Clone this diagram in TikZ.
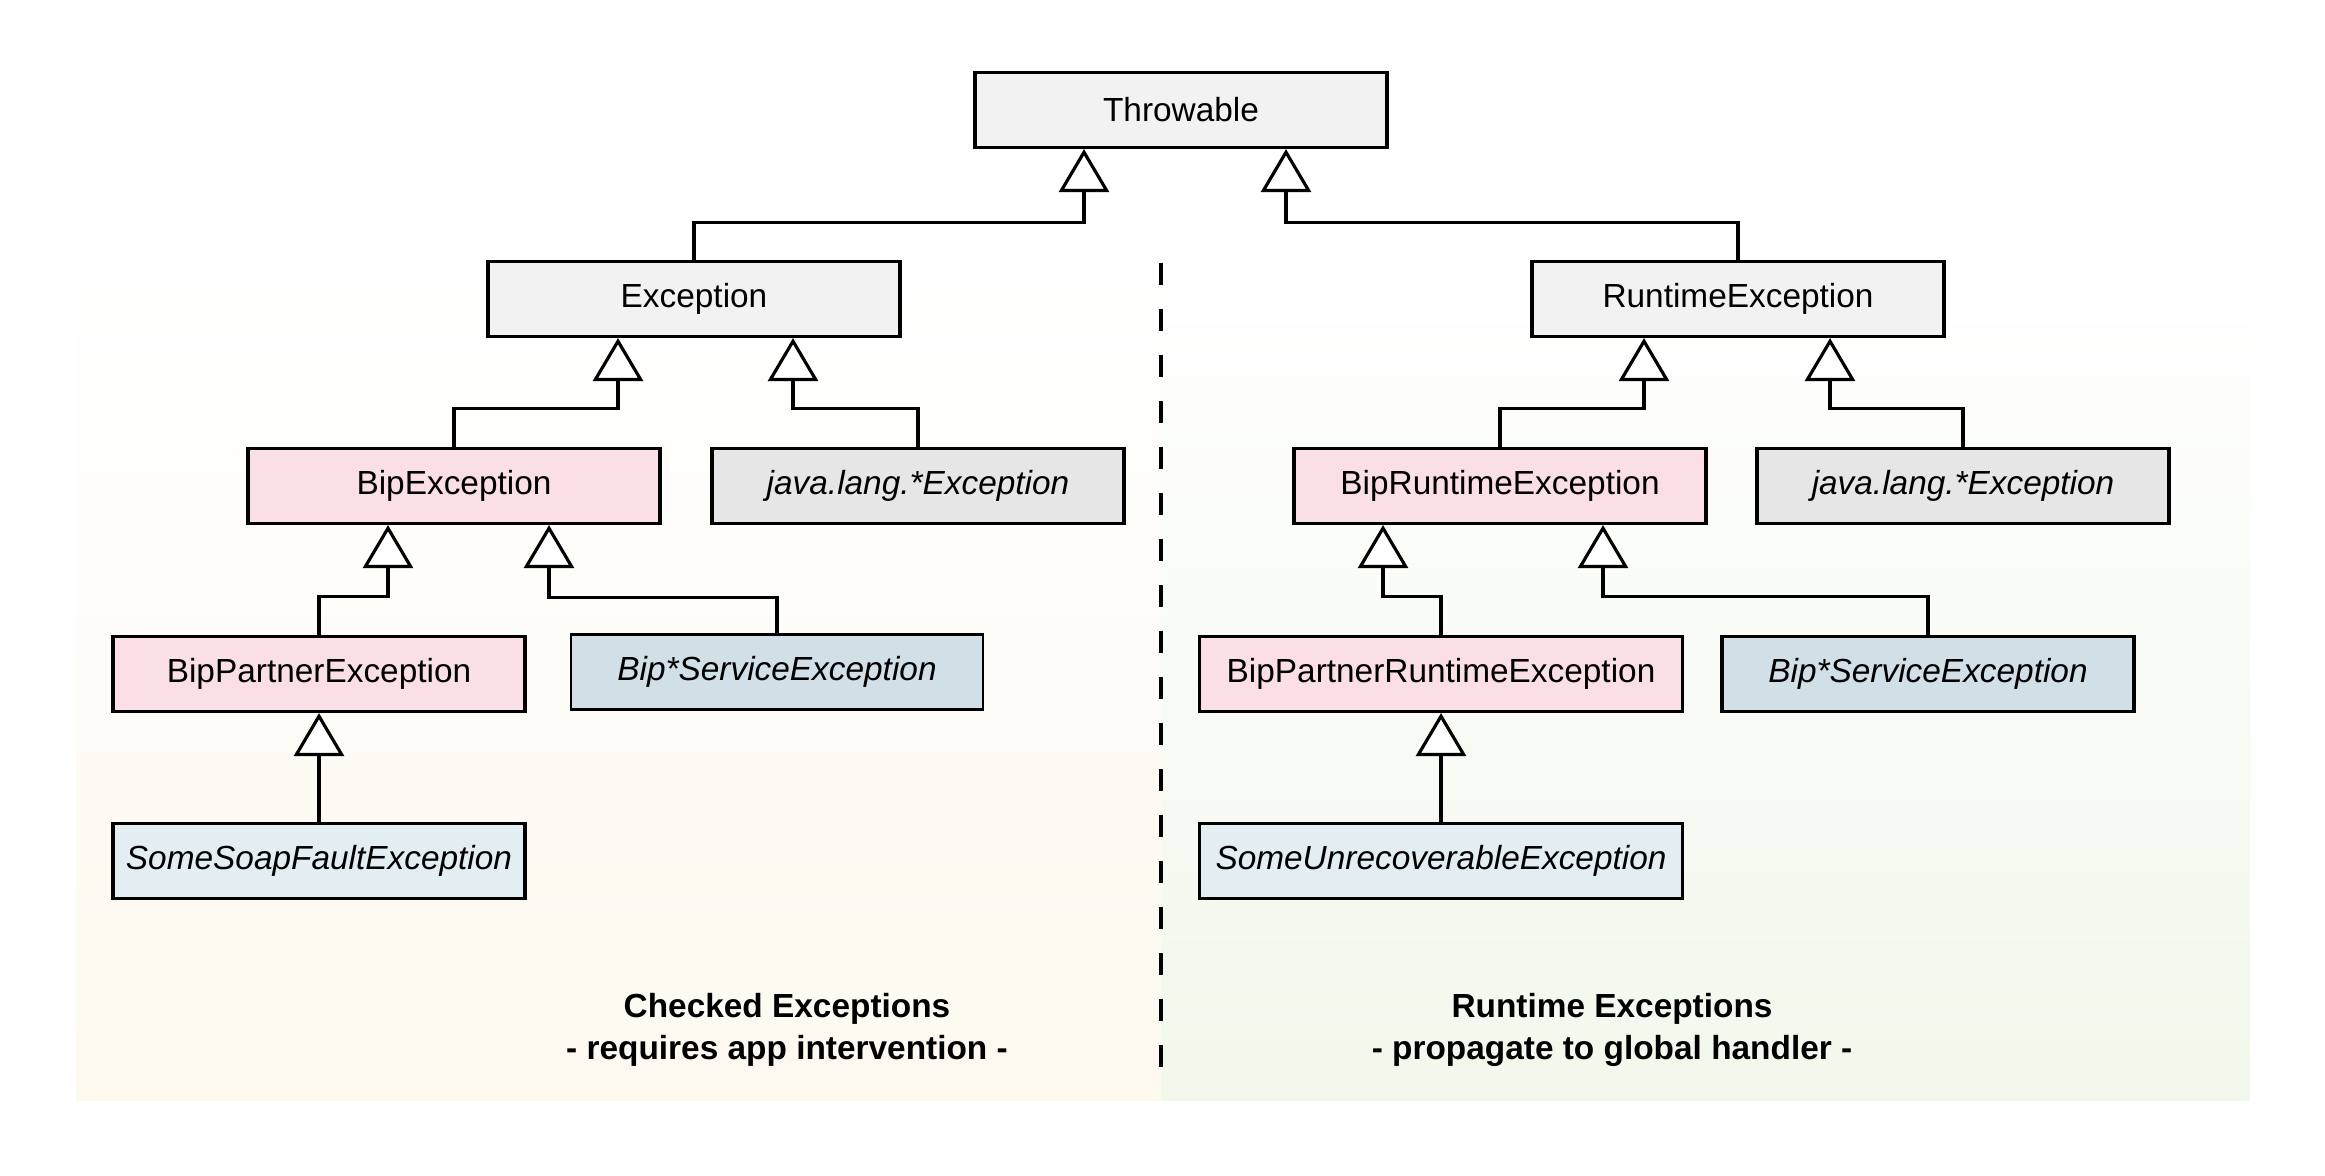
\documentclass[tikz,border=0pt]{standalone}
\usepackage{fontspec}
\setmainfont{Liberation Sans}
\usetikzlibrary{arrows.meta,calc}

\definecolor{coregray}{HTML}{F2F2F2}
\definecolor{javagray}{HTML}{E6E6E6}
\definecolor{bippink}{HTML}{FADFE6}
\definecolor{svcblue}{HTML}{D1DFE6}
\definecolor{leafblue}{HTML}{E3EEF3}
\definecolor{checkedbg}{HTML}{FDF9EF}
\definecolor{runtimebg}{HTML}{F2F8EC}

\begin{document}
\begin{tikzpicture}[
    font=\fontsize{9.5}{12}\selectfont,
    box/.style={rectangle, draw=black, line width=0.9pt, minimum width=4.12cm,
                minimum height=0.75cm, text centered, inner sep=2pt},
    corebox/.style={box, fill=coregray},
    javabox/.style={box, fill=javagray, font=\fontsize{9.5}{12}\selectfont\itshape},
    bipbox/.style={box, fill=bippink},
    svcbox/.style={box, fill=svcblue, font=\fontsize{9.5}{12}\selectfont\itshape},
    leafbox/.style={box, fill=leafblue, font=\fontsize{9.5}{12}\selectfont\itshape},
    inherit/.style={draw=black, line width=0.9pt,
                    -{Triangle[open, fill=white, length=0.43cm, width=0.5cm]}},
    caption/.style={align=center, font=\fontsize{9.5}{12}\selectfont\bfseries}
]
\useasboundingbox (0,0) rectangle (23.25,-11.76);

% Background panels
\shade[top color=white, bottom color=checkedbg] (0.76,-2.64) rectangle (11.61,-11.0);
\shade[top color=white, bottom color=runtimebg] (11.61,-2.64) rectangle (22.50,-11.0);
\draw[line width=1.2pt, dash pattern=on 0.22cm off 0.24cm] (11.61,-2.63) -- (11.61,-10.87);

% Root
\node[corebox] (throwable) at (11.81, -1.10) {Throwable};

% Left side: checked exceptions
\node[corebox] (exc) at (6.94, -2.99) {Exception};
\node[bipbox] (bipex) at (4.54, -4.86) {BipException};
\node[javabox] (jlangl) at (9.18, -4.86) {java.lang.*Exception};
\node[bipbox] (bippartner) at (3.19, -6.74) {BipPartnerException};
\node[svcbox, line width=0.7pt] (bipsvcl) at (7.77, -6.72) {Bip*ServiceException};
\node[leafbox] (soapfault) at (3.19, -8.61) {SomeSoapFaultException};

% Right side: runtime exceptions
\node[corebox] (rte) at (17.38, -2.99) {RuntimeException};
\node[bipbox] (biprte) at (15.00, -4.86) {BipRuntimeException};
\node[javabox] (jlangr) at (19.63, -4.86) {java.lang.*Exception};
\node[bipbox, minimum width=4.83cm] (bippartnerrte) at (14.41, -6.74) {BipPartnerRuntimeException};
\node[svcbox] (bipsvcr) at (19.28, -6.74) {Bip*ServiceException};
\node[leafbox, minimum width=4.83cm] (unrecov) at (14.41, -8.61) {SomeUnrecoverableException};

% Arrow end points under each parent
\coordinate (thr-l) at ($(throwable.south)+(-0.97,0)$);
\coordinate (thr-r) at ($(throwable.south)+(1.05,0)$);
\coordinate (exc-l) at ($(exc.south)+(-0.76,0)$);
\coordinate (exc-r) at ($(exc.south)+(0.99,0)$);
\coordinate (rte-l) at ($(rte.south)+(-0.94,0)$);
\coordinate (rte-r) at ($(rte.south)+(0.92,0)$);
\coordinate (bipex-l) at ($(bipex.south)+(-0.66,0)$);
\coordinate (bipex-r) at ($(bipex.south)+(0.95,0)$);
\coordinate (biprte-l) at ($(biprte.south)+(-1.17,0)$);
\coordinate (biprte-r) at ($(biprte.south)+(1.03,0)$);

% Inheritance
\draw[inherit] (exc.north) -- ++(0,0.37) -| (thr-l);
\draw[inherit] (rte.north) -- ++(0,0.37) -| (thr-r);
\draw[inherit] (bipex.north) -- ++(0,0.38) -| (exc-l);
\draw[inherit] (jlangl.north) -- ++(0,0.38) -| (exc-r);
\draw[inherit] (bippartner.north) -- ++(0,0.38) -| (bipex-l);
\draw[inherit] (bipsvcl.north) -- ++(0,0.36) -| (bipex-r);
\draw[inherit] (soapfault.north) -- (bippartner.south);
\draw[inherit] (biprte.north) -- ++(0,0.38) -| (rte-l);
\draw[inherit] (jlangr.north) -- ++(0,0.38) -| (rte-r);
\draw[inherit] (bippartnerrte.north) -- ++(0,0.38) -| (biprte-l);
\draw[inherit] (bipsvcr.north) -- ++(0,0.38) -| (biprte-r);
\draw[inherit] (unrecov.north) -- (bippartnerrte.south);

% Captions
\node[caption] (checkedcap) at (7.87, -10.30) {Checked Exceptions\\- requires app intervention -};
\node[caption] (runtimecap) at (16.12, -10.30) {Runtime Exceptions\\- propagate to global handler -};

\end{tikzpicture}
\end{document}
